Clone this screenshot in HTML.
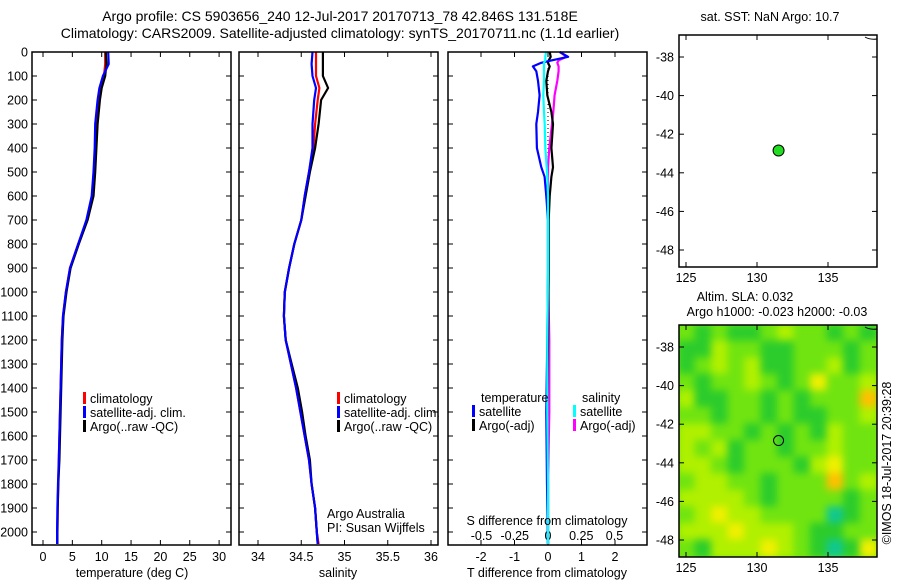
<!DOCTYPE html>
<html><head><meta charset="utf-8"><style>
html,body{margin:0;padding:0;background:#fff;}
svg{display:block;font-family:"Liberation Sans",sans-serif;}
text{font-size:12.5px;fill:#000;}
.blurred{filter:blur(4px);}
</style></head><body>
<svg id="fig" width="900" height="580" viewBox="0 0 900 580">
<defs>
<clipPath id="mapclip"><rect x="679" y="325" width="198" height="232"/></clipPath></defs>
<text x="340" y="21" text-anchor="middle" style="font-size:14px">Argo profile: CS 5903656_240 12-Jul-2017 20170713_78 42.846S 131.518E</text>
<text x="340" y="38" text-anchor="middle" style="font-size:14px">Climatology: CARS2009. Satellite-adjusted climatology: synTS_20170711.nc (1.1d earlier)</text>
<g id="g"></g>
</svg>
<script>
// ---- data ----
const depths = [0,50,100,150,200,300,400,500,600,700,800,900,1000,1100,1200,1300,1400,1500,1600,1700,1800,1900,2000,2050];
const tempClim = [10.6,10.6,10.4,9.7,9.4,9.0,8.9,8.7,8.4,7.5,6.0,4.6,3.9,3.4,3.2,3.1,3.0,2.9,2.8,2.7,2.6,2.5,2.45,2.45];
const tempSat  = [11.1,11.2,10.2,9.6,9.3,8.9,8.8,8.6,8.3,7.4,6.0,4.6,3.9,3.4,3.2,3.1,3.0,2.9,2.8,2.7,2.55,2.45,2.4,2.4];
const tempArgo = [10.7,10.8,10.6,10.0,9.7,9.3,9.1,8.9,8.6,7.6,6.1,4.7,4.0,3.5,3.3,3.2,3.1,3.0,2.9,2.8,2.6,2.5,2.45,2.45];
const salClim = [34.67,34.67,34.67,34.71,34.69,34.66,34.64,34.59,34.54,34.50,34.42,34.36,34.31,34.30,34.32,34.38,34.44,34.49,34.54,34.59,34.62,34.66,34.68,34.70];
const salSat  = [34.63,34.62,34.63,34.67,34.65,34.63,34.63,34.59,34.54,34.50,34.42,34.36,34.31,34.30,34.32,34.38,34.44,34.49,34.54,34.59,34.62,34.66,34.68,34.69];
const salArgo = [34.75,34.75,34.75,34.81,34.73,34.70,34.66,34.60,34.55,34.50,34.42,34.36,34.31,34.30,34.32,34.39,34.46,34.51,34.55,34.60,34.62,34.66,34.68,34.69];
const diffDepths = [0,20,35,45,60,80,120,180,250,300,400,480,520,600,700,900,1200,1500,1800,2050];
const tDiffSat  = [0.35,0.6,0.1,-0.2,-0.45,-0.35,-0.3,-0.25,-0.3,-0.35,-0.33,-0.2,-0.1,-0.05,0,0,-0.02,-0.05,-0.03,0];
const tDiffArgo = [0.05,0.08,0.02,0.0,0.05,0.0,-0.05,-0.02,0.1,0.15,0.1,0.15,0.1,0.05,0.02,0.02,0.0,-0.02,0.0,0.0];
const sDiffSat  = [-0.015,-0.02,-0.02,-0.03,-0.03,-0.03,-0.03,-0.035,-0.03,-0.025,-0.02,-0.01,-0.005,0,0,0,-0.005,-0.005,0,0];
const sDiffArgo = [0.09,0.14,0.08,0.07,0.08,0.08,0.07,0.05,0.04,0.03,0.01,0.0,0.0,0.0,0.0,0.0,0.01,0.01,0.0,0.0];
const depthTicks = [0,100,200,300,400,500,600,700,800,900,1000,1100,1200,1300,1400,1500,1600,1700,1800,1900,2000];
const tempTicks = [0,5,10,15,20,25,30];
const salTicks = [34,34.5,35,35.5,36];
const salTickLabels = ["34","34.5","35","35.5","36"];
const tDiffTicks = [-2,-1,0,1,2];
const sDiffTicks = [-0.5,-0.25,0,0.25,0.5];
const sDiffTickLabels = ["-0.5","-0.25","0","0.25","0.5"];
const latTicks = [-38,-40,-42,-44,-46,-48];
const lonTicks = [125,130,135];
const argoLon = 131.518, argoLat = -42.846;
// SLA map levels (rows north->south)
const slaGrid = [
[2,1,2,1,1,2,3,2,2,1,2,1],
[1,1,3,2,2,1,1,2,2,2,1,2],
[1,2,3,2,3,1,1,2,2,3,1,2],
[2,1,2,2,3,2,1,2,4,2,2,3],
[3,1,1,2,2,1,2,1,2,2,2,5],
[2,2,1,2,2,1,2,1,1,2,2,3],
[3,3,2,2,1,2,1,2,1,3,2,2],
[3,2,3,1,2,2,1,2,2,3,2,2],
[3,3,2,1,2,2,2,1,3,4,2,2],
[2,3,3,2,2,1,2,2,2,5,2,3],
[3,3,3,3,2,1,2,2,2,2,1,2],
[2,3,4,3,3,2,2,2,2,0,1,2],
[3,3,3,4,3,3,3,2,1,1,2,2],
[2,1,3,3,3,4,3,2,1,0,1,4]];
const slaColors = ["#10c890","#2ccc2c","#70e410","#b0f000","#f0f000","#ffc000"];

// ---- helpers ----
const NS="http://www.w3.org/2000/svg";
const G=document.getElementById('g');
function mk(tag,attrs,parent){const e=document.createElementNS(NS,tag);for(const k in attrs)e.setAttribute(k,attrs[k]);(parent||G).appendChild(e);return e;}
const yD = d => 52 + d*0.24;
const xT = v => 43 + v*5.87;
const xS = v => 258 + (v-34)*86.5;
const xTd = v => 548 + v*33.5;
const xSd = v => 548 + v*133;
const xLon = v => 686 + (v-125)*14.2;
const yLat1 = v => 57 + (-38-v)*19.3;
const yLat2 = v => 347 + (-38-v)*19.3;

function frame(x0,x1,y0,y1,name){
  const r=mk('rect',{x:x0,y:y0,width:x1-x0,height:y1-y0,fill:'none',stroke:'#000','stroke-width':1.5});
  
  
}
function step(xs,ds,xf,color,name,w){
  let p='';
  for(let i=0;i<xs.length;i++){
    const x=xf(xs[i]).toFixed(1), y=yD(ds[i]).toFixed(1);
    p+=(i?'L':'M')+x+' '+y;
  }
  const e=mk('path',{d:p,fill:'none',stroke:color,'stroke-width':w||2.2,'stroke-linejoin':'round'});
  
  
}
function txt(x,y,s,name,anchor,size){
  const t=mk('text',{x:x,y:y,'text-anchor':anchor||'start'});
  if(size)t.style.fontSize=size+'px';
  t.textContent=s;
  
  
  return t;
}
function depthAxis(x0,x1,labels){
  depthTicks.forEach(d=>{
    const y=yD(d);
    mk('line',{x1:x0,x2:x0+5,y1:y,y2:y,stroke:'#000'});
    mk('line',{x1:x1-5,x2:x1,y1:y,y2:y,stroke:'#000'});
    if(labels) txt(28,y+4.5,String(d),'depth-tick-label','end');
  });
}
function xTicks(vals,labels,xf,y0,y1,name){
  vals.forEach((v,i)=>{
    const x=xf(v);
    mk('line',{x1:x,x2:x,y1:y1,y2:y1-5,stroke:'#000'});
    mk('line',{x1:x,x2:x,y1:y0,y2:y0+5,stroke:'#000'});
    txt(x,y1+16,labels[i],name,'middle');
  });
}
function legendEntry(x,y,color,label,name){
  const r=mk('rect',{x:x,y:y-11,width:3,height:12,fill:color});
  
  
  txt(x+7,y,label,name);
}

// ---- panel 1: temperature ----
depthAxis(32,231,true);
xTicks(tempTicks,tempTicks.map(String),xT,52,545,'temp-tick-label');
step(tempClim,depths,xT,'#ff0000','temp-climatology-line');
step(tempArgo,depths,xT,'#000000','temp-argo-line');
step(tempSat,depths,xT,'#0000ff','temp-satellite-line');
frame(32,231,52,545,'temperature-panel');
txt(132,577,'temperature (deg C)','temp-x-axis-title','middle');
legendEntry(83,403,'#ff0000','climatology','legend-climatology');
legendEntry(83,417,'#0000ff','satellite-adj. clim.','legend-satellite-adj');
legendEntry(83,431,'#000000','Argo(..raw -QC)','legend-argo');

// ---- panel 2: salinity ----
depthAxis(239,438,false);
xTicks(salTicks,salTickLabels,xS,52,545,'sal-tick-label');
step(salClim,depths,xS,'#ff0000','sal-climatology-line');
step(salArgo,depths,xS,'#000000','sal-argo-line');
step(salSat,depths,xS,'#0000ff','sal-satellite-line');
frame(239,438,52,545,'salinity-panel');
txt(338,577,'salinity','sal-x-axis-title','middle');
legendEntry(337,403,'#ff0000','climatology','legend-climatology');
legendEntry(337,417,'#0000ff','satellite-adj. clim.','legend-satellite-adj');
legendEntry(337,431,'#000000','Argo(..raw -QC)','legend-argo');
txt(327,518,'Argo Australia','credit-argo-australia');
txt(327,532,'PI: Susan Wijffels','credit-pi');

// ---- panel 3: differences ----
depthAxis(448,647,false);
tDiffTicks.forEach(v=>{const x=xTd(v);
  mk('line',{x1:x,x2:x,y1:545,y2:540,stroke:'#000'});
  mk('line',{x1:x,x2:x,y1:52,y2:57,stroke:'#000'});
  txt(x,561,String(v),'tdiff-tick-label','middle');});
sDiffTicks.forEach((v,i)=>{txt(xSd(v),540,sDiffTickLabels[i],'sdiff-tick-label','middle');});
mk('line',{x1:548,x2:548,y1:52,y2:545,stroke:'#000','stroke-dasharray':'1 3'});
step(sDiffArgo,diffDepths,xSd,'#ff00ff','sdiff-argo-line');
step(tDiffArgo,diffDepths,xTd,'#000000','tdiff-argo-line');
step(tDiffSat,diffDepths,xTd,'#0000ff','tdiff-satellite-line');
step(sDiffSat,diffDepths,xSd,'#00ffff','sdiff-satellite-line');
frame(448,647,52,545,'difference-panel');
txt(547,525,'S difference from climatology','sdiff-axis-title','middle');
txt(547,577,'T difference from climatology','tdiff-axis-title','middle');
txt(481,402,'temperature','legend-temperature-heading');
legendEntry(472,416,'#0000ff','satellite','legend-temp-satellite');
legendEntry(472,430,'#000000','Argo(-adj)','legend-temp-argo');
txt(582,402,'salinity','legend-salinity-heading');
legendEntry(573,416,'#00ffff','satellite','legend-sal-satellite');
legendEntry(573,430,'#ff00ff','Argo(-adj)','legend-sal-argo');

// ---- map 1: SST ----
function mapAxes(y0,y1,yl,name){
  latTicks.forEach(v=>{const y=yl(v);
    mk('line',{x1:679,x2:684,y1:y,y2:y,stroke:'#000'});
    mk('line',{x1:872,x2:877,y1:y,y2:y,stroke:'#000'});
    txt(674,y+4.5,String(v),name+'-lat-label','end');});
  lonTicks.forEach(v=>{const x=xLon(v);
    mk('line',{x1:x,x2:x,y1:y1,y2:y1-5,stroke:'#000'});
    mk('line',{x1:x,x2:x,y1:y0,y2:y0+5,stroke:'#000'});
    txt(x,y1+15,String(v),name+'-lon-label','middle');});
  mk('path',{d:'M865 '+(y0+2)+' Q870 '+(y0+5)+' 877 '+(y0+4),fill:'none',stroke:'#000'});
}
txt(770,21,'sat. SST: NaN Argo: 10.7','sst-map-title','middle');
mapAxes(35,267,yLat1,'sst-map');
const dot=mk('circle',{cx:xLon(argoLon),cy:yLat1(argoLat),r:5.5,fill:'#22dd22',stroke:'#000'});


frame(679,877,35,267,'sst-map-panel');

// ---- map 2: SLA ----
txt(745,301,'Altim. SLA: 0.032','sla-map-title','middle');
txt(777,316,'Argo h1000: -0.023 h2000: -0.03','sla-map-subtitle','middle');
const hg=mk('g',{'clip-path':'url(#mapclip)'});


mk('rect',{x:679,y:325,width:198,height:232,fill:'#70e410'},hg);
const hb=mk('g',{'class':'blurred'},hg);
const nr=slaGrid.length,nc=slaGrid[0].length,cw=198/nc,ch=232/nr;
slaGrid.forEach((row,r)=>row.forEach((v,c)=>{
  const cell=mk('rect',{x:679+c*cw-1,y:325+r*ch-1,width:cw+2,height:ch+2,fill:slaColors[v]},hb);
  
  
}));
mapAxes(325,557,yLat2,'sla-map');
const dot2=mk('circle',{cx:xLon(argoLon),cy:yLat2(argoLat),r:5,fill:'none',stroke:'#000'});


frame(679,877,325,557,'sla-map-panel');
const stamp=txt(0,0,'©IMOS 18-Jul-2017 20:39:28','imos-timestamp','middle');
stamp.setAttribute('transform','translate(891 463) rotate(-90)');
</script>
</body></html>
